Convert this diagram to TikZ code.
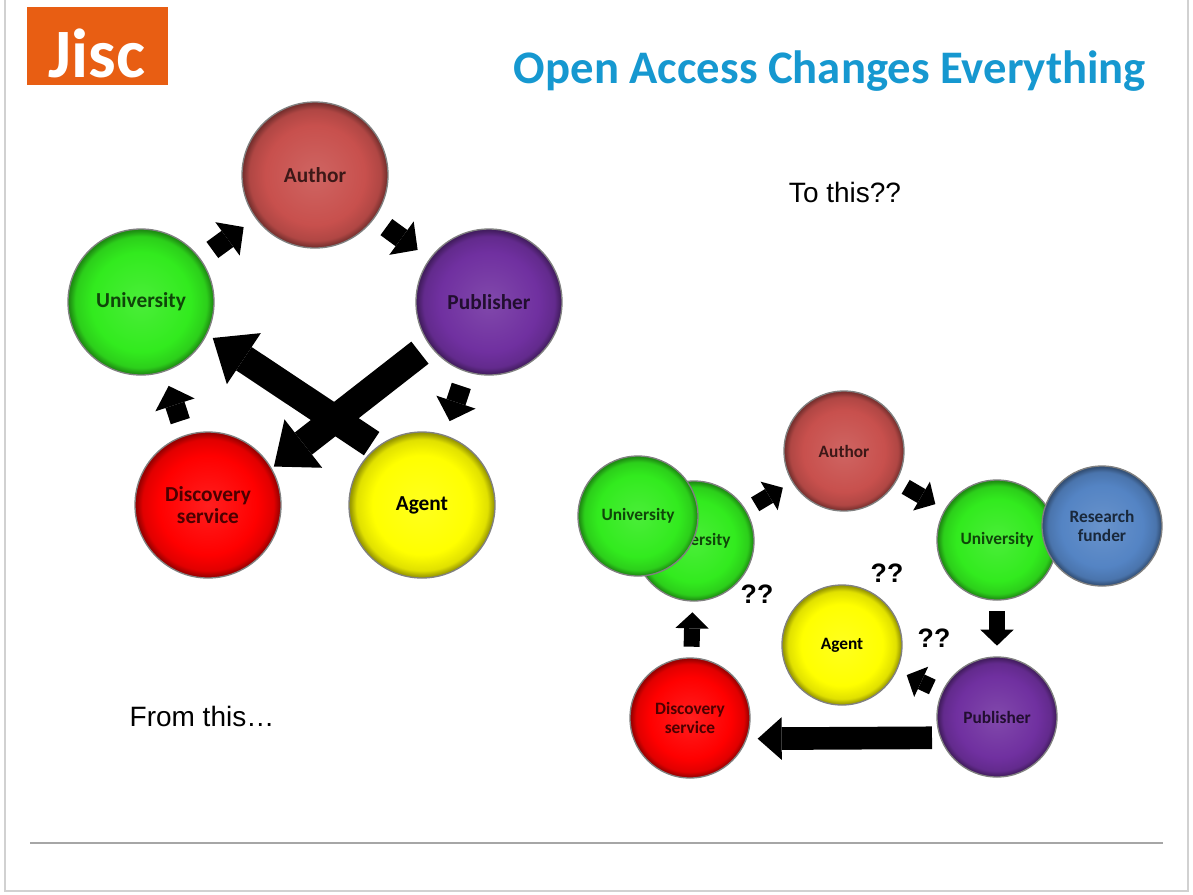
\documentclass[tikz,border=0pt]{standalone}
\usepackage{fontspec}
\setmainfont{Liberation Sans}
\newfontfamily\calfont{Carlito}
\usetikzlibrary{arrows.meta}

\definecolor{jiscorange}{RGB}{232,94,19}
\definecolor{jiscblue}{RGB}{22,152,208}
\definecolor{authorred}{RGB}{200,80,77}
\definecolor{unigreen}{RGB}{50,235,30}
\definecolor{pubpurple}{RGB}{112,48,160}
\definecolor{discred}{RGB}{255,0,0}
\definecolor{agentyellow}{RGB}{255,255,0}
\definecolor{funderblue}{RGB}{84,132,196}
\colorlet{btncol}{white}

\pgfdeclareradialshading[btncol]{button}{\pgfpoint{0bp}{0bp}}{%
  color(0bp)=(btncol!88!white); color(17bp)=(btncol); color(22.5bp)=(btncol!88!black);
  color(24.6bp)=(btncol!60!black); color(25bp)=(btncol!60!black); color(50bp)=(btncol!60!black)}

\tikzset{every picture/.style={line width=0.75pt}}
\tikzset{
  btn/.style={circle, draw=black!50, line width=1pt, shading=button, inner sep=0pt, align=center},
  btnL/.style={minimum size=109.5pt, font=\calfont\bfseries\fontsize{16}{17}\selectfont},
  btnR/.style={minimum size=90pt, font=\calfont\bfseries\fontsize{13}{14}\selectfont},
  tint/.style={/utils/exec={\colorlet{btncol}{#1}}, text=#1!30!black},
  blkL/.style={line width=15pt, -{Triangle[length=15pt,width=31pt,line width=0pt]}, shorten <=#1, shorten >=#1},
  blkL/.default=11pt,
  blkR/.style={line width=12pt, -{Triangle[length=12pt,width=25pt,line width=0pt]}, shorten <=#1, shorten >=#1},
  blkR/.default=8pt,
  bigL/.style={line width=21pt, -{Triangle[length=28pt,width=46pt,line width=0pt]}},
  bigR/.style={line width=17pt, -{Triangle[length=18pt,width=32pt,line width=0pt]}},
  qq/.style={font=\bfseries\fontsize{20}{20}\selectfont}
}

\begin{document}
\begin{tikzpicture}[x=0.75pt,y=0.75pt,yscale=-1,xscale=1]
\path[use as bounding box] (0,0) rectangle (1193,894);

%Frame
\draw[color=black!18, line width=1.5pt] (5,0) -- (5,891) -- (1188,891) -- (1188,0);
%Logo
\fill[jiscorange] (27,7) rectangle (168,85);
\node[anchor=base, text=white, font=\calfont\bfseries\fontsize{52}{52}\selectfont] (logo) at (97,77) {Jisc};
%Title
\node[anchor=base, text=jiscblue, font=\calfont\bfseries\fontsize{35}{35}\selectfont] (title) at (830,83) {Open Access Changes Everything};
\node[font=\fontsize{21}{21}\selectfont] (tothis) at (845,192) {To this??};
\node[font=\fontsize{21}{21}\selectfont] (fromthis) at (202,716) {From this…};
%Rule
\draw[color=black!35, line width=1.5pt] (30,843) -- (1163,843);

%Shape: Circle (left)
\node[btn, btnL, tint=authorred] (author) at (315,175) {Author};
\node[btn, btnL, tint=unigreen] (uni) at (141,302) {University};
\node[btn, btnL, tint=pubpurple] (pub) at (489,302) {Publisher};
\node[btn, btnL, tint=discred] (disc) at (208,505) {Discovery\\service};
\node[btn, btnL, tint=agentyellow, text=black] (agent) at (422,505) {Agent};

%Block Arrows (left)
\draw[blkL] (uni) -- (author);
\draw[blkL] (author) -- (pub);
\draw[blkL] (pub) -- (agent);
\draw[blkL] (disc) -- (uni);
\draw[bigL, shorten <=4.5pt, shorten >=5pt] (agent.128) -- (uni.334);
\draw[bigL, shorten <=9pt, shorten >=2pt] (pub.216) -- (disc.30);

%Shape: Circle (right)
\node[btn, btnR, tint=unigreen] (uniB) at (694,541) {University};
\node[btn, btnR, tint=unigreen] (uniA) at (638,516) {University};
\node[btn, btnR, tint=authorred] (authorR) at (844,451) {Author};
\node[btn, btnR, tint=unigreen] (uniR) at (997,540) {University};
\node[btn, btnR, tint=funderblue] (funder) at (1102,526) {Research\\funder};
\node[btn, btnR, tint=agentyellow, text=black] (agentR) at (842,645) {Agent};
\node[btn, btnR, tint=pubpurple] (pubR) at (997,717) {Publisher};
\node[btn, btnR, tint=discred] (discR) at (690,718) {Discovery\\service};

%Block Arrows (right)
\draw[blkR] (uniB) -- (authorR);
\draw[blkR] (authorR) -- (uniR);
\draw[blkR] (uniR) -- (pubR);
\draw[blkR] (pubR) -- (agentR);
\draw[blkR] (discR) -- (uniB);
\draw[bigR, shorten <=6pt, shorten >=8pt] (pubR.200) -- (discR.340);

%Question marks
\node[qq] (q1) at (757,594) {??};
\node[qq] (q2) at (887,573) {??};
\node[qq] (q3) at (934,638) {??};

\end{tikzpicture}
\end{document}
